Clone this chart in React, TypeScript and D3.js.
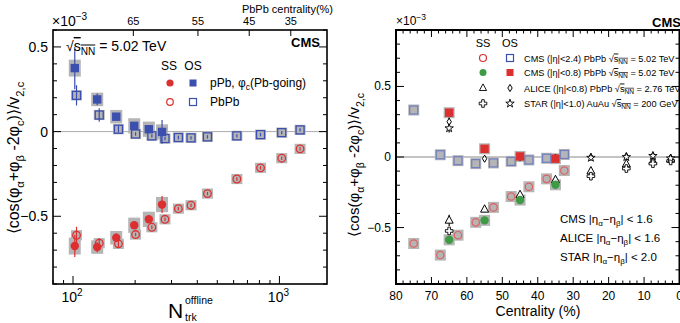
import React from 'react';
import * as d3 from 'd3';

// ---------- Left panel data (values in units of 1e-3) ----------
const pPbN = [102, 131, 162, 198, 233, 270];
const pPbSS = [-0.676, -0.682, -0.627, -0.553, -0.518, -0.431];
const pPbSSerr = [0.065, 0.03, 0.025, 0.02, 0.02, 0.05];
const pPbOS = [0.375, 0.19, 0.088, 0.034, 0.014, -0.002];
const pPbOSerr = [0.125, 0.035, 0.02, 0.015, 0.015, 0.07];
const pPbSys = [0.05, 0.04, 0.04, 0.045, 0.045, 0.045];

const PbPbN = [104, 134, 166, 201, 241, 279, 324, 373, 448, 622, 810, 1026, 1259];
const PbPbSS = [-0.612, -0.659, -0.663, -0.608, -0.565, -0.518, -0.455, -0.435, -0.366, -0.28, -0.214, -0.157, -0.102];
const PbPbSSerr = [0.05, 0.03, 0.02, 0.01, 0.01, 0.01, 0.01, 0.01, 0.01, 0.01, 0.01, 0.01, 0.01];
const PbPbOS = [0.214, 0.098, 0.014, -0.014, -0.025, -0.041, -0.035, -0.037, -0.031, -0.025, -0.018, -0.006, 0.01];
const PbPbOSerr = [0.06, 0.04, 0.02, 0.01, 0.01, 0.01, 0.01, 0.01, 0.01, 0.01, 0.01, 0.01, 0.01];
const PbPbSys = [0.03, 0.03, 0.03, 0.03, 0.03, 0.03, 0.03, 0.03, 0.03, 0.03, 0.03, 0.03, 0.03];

const topCentLabels = [65, 55, 45, 35];
const topCentN = [196, 403, 714, 1135];

// ---------- Right panel data ----------
const cmsCent = [75, 67.5, 62.5, 57.5, 52.5, 47.5, 42.5, 37.5, 32.5];
const cmsOS = [0.333, 0.016, -0.026, -0.047, -0.042, -0.031, -0.021, -0.009, 0.018];
const cmsSS = [-0.613, -0.695, -0.554, -0.463, -0.357, -0.28, -0.211, -0.155, -0.096];

const cms08Cent = [65, 55, 45, 35];
const cms08SS = [-0.587, -0.449, -0.305, -0.197];
const cms08OS = [0.314, 0.058, 0.004, -0.012];

const aliceCent = [65, 55, 45, 35, 25, 15, 7.5, 2.5];
const aliceSS = [-0.449, -0.371, -0.268, -0.162, -0.1, -0.05, -0.03, -0.016];
const aliceSSerr = [0.04, 0.02, 0.02, 0.02, 0.02, 0.015, 0.015, 0.015];
const aliceOS = [0.25, -0.012, 0.0, -0.005, 0.0, 0.005, 0.01, -0.005];
const aliceOSerr = [0.03, 0.02, 0.025, 0.015, 0.015, 0.015, 0.015, 0.015];

const starCent = [65, 25, 15, 7.5, 2.5];
const starSS = [-0.524, -0.136, -0.082, -0.047, -0.028];
const starOS = [0.204, -0.005, 0.0, 0.008, -0.01];
const starOSerr = [0.03, 0.01, 0.01, 0.01, 0.01];

const rightXTicks = [80, 70, 60, 50, 40, 30, 20, 10, 0];

const legendRows = [
  ['CMS (|η|<2.4) PbPb ', ' = 5.02 TeV'],
  ['CMS (|η|<0.8) PbPb ', ' = 5.02 TeV'],
  ['ALICE (|η|<0.8) PbPb ', ' = 2.76 TeV'],
  ['STAR (|η|<1.0) AuAu ', ' = 200 GeV'],
];

const FONT = "'Liberation Sans', Arial, Helvetica, sans-serif";
const RED = '#dc2f2f';
const BLUE = '#3b4fae';
const GREEN = '#3f9a45';
const GRAY = '#b5b5b5';

const rnd = (v: number) => Math.round(v * 1000) / 1000;

function YLabel({ x, y, size }: { x: number; y: number; size: number }) {
  const s = size * 0.7;
  const d = size * 0.3;
  return (
    <text transform={`translate(${x},${y}) rotate(-90)`} textAnchor="middle" fontSize={size} fontFamily={FONT}>
      <tspan>⟨cos(φ</tspan>
      <tspan fontSize={s} dy={d}>α</tspan>
      <tspan dy={-d}>+φ</tspan>
      <tspan fontSize={s} dy={d}>β</tspan>
      <tspan dy={-d}> -2φ</tspan>
      <tspan fontSize={s} dy={d}>c</tspan>
      <tspan dy={-d}>)⟩/v</tspan>
      <tspan fontSize={s} dy={d}>2,c</tspan>
    </text>
  );
}

function SqrtText({ x, y, size, pre, rest }: { x: number; y: number; size: number; pre: string; rest: string }) {
  const s = size * 0.72;
  return (
    <text x={x} y={y} fontSize={size} fontFamily={FONT}>
      <tspan>{pre}√</tspan>
      <tspan style={{ textDecoration: 'overline' }}>s</tspan>
      <tspan fontSize={s} dy={size * 0.25} style={{ textDecoration: 'overline' }}>NN</tspan>
      <tspan dy={-size * 0.25}>{rest}</tspan>
    </text>
  );
}

export default function App() {
  const xL = d3.scaleLog().domain([80, 1700]).range([53, 327]);
  const yL = d3.scaleLinear().domain([-0.9, 0.6]).range([284, 30]);
  const xR = d3.scaleLinear().domain([80, 0]).range([396, 679.5]);
  const yR = d3.scaleLinear().domain([-0.9, 0.9]).range([284, 30]);

  const L = { x0: 53, x1: 327, y0: 30, y1: 284 };
  const R = { x0: 396, x1: 679.5, y0: 30, y1: 284 };

  const leftYMinor = d3.range(-9, 7).map((i) => rnd(i / 10));
  const rightYMinor = d3.range(-9, 10).map((i) => rnd(i / 10));
  const majors = [-0.5, 0, 0.5];
  const leftXMinor = [80, 90, 200, 300, 400, 500, 600, 700, 800, 900];
  const leftXMajor = [100, 1000];
  const rightXMinor = d3.range(0, 81, 2);

  const starPath = d3.symbol(d3.symbolStar, 22)() as string;
  const crossPath = 'M-1.3,-3.8H1.3V-1.3H3.8V1.3H1.3V3.8H-1.3V1.3H-3.8V-1.3H-1.3Z';
  const triPath = 'M0,-4.6L4,2.8L-4,2.8Z';
  const diaPath = 'M0,-3.6L2.2,0L0,3.6L-2.2,0Z';

  const errBar = (x: number, y1: number, y2: number, color: string, key: string) => (
    <line key={key} x1={x} x2={x} y1={y1} y2={y2} stroke={color} strokeWidth={1.2} />
  );

  const legY = [61.5, 76, 91.5, 107];

  return (
    <svg width={680} height={323} style={{ position: 'absolute', left: 0, top: 0, background: '#fff' }} fontFamily={FONT}>
      {/* ================= LEFT PANEL ================= */}
      <line x1={L.x0} x2={L.x1} y1={yL(0)} y2={yL(0)} stroke="#aaa" strokeWidth={1} />
      {leftYMinor.map((v) => {
        const len = majors.includes(v) ? 8 : 4;
        return (
          <g key={'ly' + v}>
            <line x1={L.x0} x2={L.x0 + len} y1={yL(v)} y2={yL(v)} stroke="#000" strokeWidth={1} />
            <line x1={L.x1} x2={L.x1 - len} y1={yL(v)} y2={yL(v)} stroke="#000" strokeWidth={1} />
          </g>
        );
      })}
      {majors.map((v) => (
        <text key={'lyl' + v} x={L.x0 - 5} y={yL(v) + 5} textAnchor="end" fontSize={14}>
          {v === 0 ? '0' : v < 0 ? '−0.5' : '0.5'}
        </text>
      ))}
      {leftXMinor.map((v) => (
        <line key={'lxm' + v} x1={xL(v)} x2={xL(v)} y1={L.y1} y2={L.y1 - 4} stroke="#000" />
      ))}
      {leftXMajor.map((v, i) => (
        <g key={'lxM' + v}>
          <line x1={xL(v)} x2={xL(v)} y1={L.y1} y2={L.y1 - 8} stroke="#000" />
          <text x={xL(v) - 1} y={302} textAnchor="middle" fontSize={14}>
            10<tspan fontSize={10} dy={-6}>{i === 0 ? '2' : '3'}</tspan>
          </text>
        </g>
      ))}
      {topCentN.map((n, i) => (
        <g key={'tc' + n}>
          <line x1={xL(n)} x2={xL(n)} y1={L.y0} y2={L.y0 + 6} stroke="#000" />
          <text x={xL(n)} y={L.y0 - 5} textAnchor="middle" fontSize={11}>{topCentLabels[i]}</text>
        </g>
      ))}
      <text x={333} y={13} textAnchor="end" fontSize={11}>PbPb centrality(%)</text>
      <text x={52} y={26} fontSize={14}>×10<tspan fontSize={10} dy={-6}>−3</tspan></text>
      <rect x={L.x0} y={L.y0} width={L.x1 - L.x0} height={L.y1 - L.y0} fill="none" stroke="#000" strokeWidth={1.6} />

      {PbPbN.map((n, i) => (
        <g key={'pbsys' + i}>
          <rect x={xL(n) - 5.5} y={yL(PbPbSS[i] + PbPbSys[i])} width={11} height={yL(-PbPbSys[i]) - yL(PbPbSys[i])} fill={GRAY} />
          <rect x={xL(n) - 5.5} y={yL(PbPbOS[i] + PbPbSys[i])} width={11} height={yL(-PbPbSys[i]) - yL(PbPbSys[i])} fill={GRAY} />
        </g>
      ))}
      {pPbN.map((n, i) => (
        <g key={'ppsys' + i}>
          <rect x={xL(n) - 6} y={yL(pPbSS[i] + pPbSys[i])} width={12} height={yL(-pPbSys[i]) - yL(pPbSys[i])} fill={GRAY} />
          <rect x={xL(n) - 6} y={yL(pPbOS[i] + pPbSys[i])} width={12} height={yL(-pPbSys[i]) - yL(pPbSys[i])} fill={GRAY} />
        </g>
      ))}
      {PbPbN.map((n, i) => (
        <g key={'pberr' + i}>
          {errBar(xL(n), yL(PbPbSS[i] - PbPbSSerr[i]), yL(PbPbSS[i] + PbPbSSerr[i]), RED, 'a')}
          {errBar(xL(n), yL(PbPbOS[i] - PbPbOSerr[i]), yL(PbPbOS[i] + PbPbOSerr[i]), BLUE, 'b')}
        </g>
      ))}
      {pPbN.map((n, i) => (
        <g key={'pperr' + i}>
          {errBar(xL(n), yL(pPbSS[i] - pPbSSerr[i]), yL(pPbSS[i] + pPbSSerr[i]), RED, 'a')}
          {errBar(xL(n), yL(pPbOS[i] - pPbOSerr[i]), yL(pPbOS[i] + pPbOSerr[i]), BLUE, 'b')}
        </g>
      ))}
      {PbPbN.map((n, i) => (
        <g key={'pbm' + i}>
          <circle cx={xL(n)} cy={yL(PbPbSS[i])} r={3.8} fill="none" stroke={RED} strokeWidth={1.3} />
          <rect x={xL(n) - 4} y={yL(PbPbOS[i]) - 4} width={8} height={8} fill="none" stroke={BLUE} strokeWidth={1.3} />
        </g>
      ))}
      {pPbN.map((n, i) => (
        <g key={'ppm' + i}>
          <circle cx={xL(n)} cy={yL(pPbSS[i])} r={4.2} fill={RED} />
          <rect x={xL(n) - 4.2} y={yL(pPbOS[i]) - 4.2} width={8.4} height={8.4} fill={BLUE} />
        </g>
      ))}
      <SqrtText x={66} y={51} size={14} pre="" rest=" = 5.02 TeV" />
      <text x={320} y={47} textAnchor="end" fontSize={13} fontWeight="bold">CMS</text>
      <text x={169} y={70} textAnchor="middle" fontSize={12}>SS</text>
      <text x={193} y={70} textAnchor="middle" fontSize={12}>OS</text>
      <circle cx={170} cy={83} r={3.6} fill={RED} />
      <rect x={189.5} y={79.5} width={7} height={7} fill={BLUE} />
      <text x={210} y={87} fontSize={12}>pPb, φ<tspan fontSize={8.5} dy={3}>c</tspan><tspan dy={-3}>(Pb-going)</tspan></text>
      <circle cx={170} cy={102} r={3.3} fill="none" stroke={RED} strokeWidth={1.2} />
      <rect x={189.5} y={98.5} width={7} height={7} fill="none" stroke={BLUE} strokeWidth={1.2} />
      <text x={210} y={106} fontSize={12}>PbPb</text>
      <YLabel x={19} y={158} size={16} />
      <text x={168} y={318} fontSize={21}>N</text>
      <text x={185} y={304} fontSize={10.5}>offline</text>
      <text x={185} y={320.5} fontSize={10.5}>trk</text>

      {/* ================= RIGHT PANEL ================= */}
      <line x1={R.x0} x2={R.x1} y1={yR(0)} y2={yR(0)} stroke="#888" strokeWidth={1} />
      {rightYMinor.map((v) => {
        const len = majors.includes(v) ? 8 : 4;
        return (
          <g key={'ry' + v}>
            <line x1={R.x0} x2={R.x0 + len} y1={yR(v)} y2={yR(v)} stroke="#000" />
            <line x1={R.x1} x2={R.x1 - len} y1={yR(v)} y2={yR(v)} stroke="#000" />
          </g>
        );
      })}
      {majors.map((v) => (
        <text key={'ryl' + v} x={R.x0 - 5} y={yR(v) + 4} textAnchor="end" fontSize={12}>
          {v === 0 ? '0' : v < 0 ? '−0.5' : '0.5'}
        </text>
      ))}
      {rightXMinor.map((v) => {
        const len = v % 10 === 0 ? 7 : 3.5;
        return (
          <g key={'rx' + v}>
            <line x1={xR(v)} x2={xR(v)} y1={R.y1} y2={R.y1 - len} stroke="#000" />
            <line x1={xR(v)} x2={xR(v)} y1={R.y0} y2={R.y0 + len} stroke="#000" />
          </g>
        );
      })}
      {rightXTicks.map((v) => (
        <text key={'rxl' + v} x={xR(v)} y={300} textAnchor="middle" fontSize={12}>{v}</text>
      ))}
      <text x={538} y={316} textAnchor="middle" fontSize={14}>Centrality (%)</text>
      <text x={396} y={25} fontSize={12}>×10<tspan fontSize={8.5} dy={-5}>−3</tspan></text>
      <text x={681} y={27} textAnchor="end" fontSize={13} fontWeight="bold">CMS</text>
      <rect x={R.x0} y={R.y0} width={R.x1 - R.x0} height={R.y1 - R.y0} fill="none" stroke="#000" strokeWidth={2} />

      {cmsCent.map((c, i) => (
        <g key={'csys' + i}>
          <rect x={xR(c) - 5.5} y={yR(cmsOS[i]) - 5.5} width={11} height={11} fill={GRAY} />
          <rect x={xR(c) - 5.5} y={yR(cmsSS[i]) - 5.5} width={11} height={11} fill={GRAY} />
        </g>
      ))}
      {cms08Cent.map((c, i) => (
        <g key={'c8sys' + i}>
          <rect x={xR(c) - 5.5} y={yR(cms08OS[i]) - 5.5} width={11} height={11} fill={GRAY} />
          <rect x={xR(c) - 5.5} y={yR(cms08SS[i]) - 5.5} width={11} height={11} fill={GRAY} />
        </g>
      ))}
      {cmsCent.map((c, i) => (
        <g key={'cm' + i}>
          <rect x={xR(c) - 4} y={yR(cmsOS[i]) - 4} width={8} height={8} fill="none" stroke="#6f7fc0" strokeWidth={1.2} />
          <circle cx={xR(c)} cy={yR(cmsSS[i])} r={3.7} fill="none" stroke="#e06060" strokeWidth={1.2} />
        </g>
      ))}
      {aliceCent.map((c, i) => (
        <g key={'al' + i}>
          {errBar(xR(c), yR(aliceSS[i] - aliceSSerr[i]), yR(aliceSS[i] + aliceSSerr[i]), '#000', 'a')}
          {errBar(xR(c), yR(aliceOS[i] - aliceOSerr[i]), yR(aliceOS[i] + aliceOSerr[i]), '#000', 'b')}
          <path d={triPath} transform={`translate(${xR(c)},${yR(aliceSS[i])})`} fill="#fff" stroke="#000" strokeWidth={1} />
          <path d={diaPath} transform={`translate(${xR(c)},${yR(aliceOS[i])})`} fill="#fff" stroke="#000" strokeWidth={1} />
        </g>
      ))}
      {starCent.map((c, i) => (
        <g key={'st' + i}>
          {errBar(xR(c), yR(starOS[i] - starOSerr[i]), yR(starOS[i] + starOSerr[i]), '#000', 'b')}
          <path d={crossPath} transform={`translate(${xR(c)},${yR(starSS[i])})`} fill="#fff" stroke="#000" strokeWidth={0.9} />
          <path d={starPath} transform={`translate(${xR(c)},${yR(starOS[i])})`} fill="#fff" stroke="#000" strokeWidth={0.9} />
        </g>
      ))}
      {cms08Cent.map((c, i) => (
        <g key={'c8' + i}>
          <rect x={xR(c) - 4.2} y={yR(cms08OS[i]) - 4.2} width={8.4} height={8.4} fill={RED} />
          <circle cx={xR(c)} cy={yR(cms08SS[i])} r={4.2} fill={GREEN} />
        </g>
      ))}

      {/* right legend */}
      <text x={483} y={47} textAnchor="middle" fontSize={11}>SS</text>
      <text x={510} y={47} textAnchor="middle" fontSize={11}>OS</text>
      <circle cx={483} cy={58} r={3.5} fill="none" stroke={RED} strokeWidth={1.2} />
      <rect x={506.5} y={54.5} width={7} height={7} fill="none" stroke={BLUE} strokeWidth={1.2} />
      <circle cx={483} cy={72.5} r={3.5} fill={GREEN} />
      <rect x={506.5} y={69} width={7} height={7} fill={RED} />
      <path d={triPath} transform="translate(483,88) scale(0.9)" fill="#fff" stroke="#000" />
      <path d={diaPath} transform="translate(510,88)" fill="#fff" stroke="#000" />
      <path d={crossPath} transform="translate(483,103.5)" fill="#fff" stroke="#000" strokeWidth={0.9} />
      <path d={starPath} transform="translate(510,103.5)" fill="#fff" stroke="#000" strokeWidth={0.9} />
      {legendRows.map(([pre, rest], i) => (
        <SqrtText key={'lr' + i} x={524} y={legY[i]} size={9.2} pre={pre} rest={rest} />
      ))}

      {[
        ['CMS', '1.6', 223],
        ['ALICE', '1.6', 242],
        ['STAR', '2.0', 261],
      ].map(([name, cut, y]) => (
        <text key={name as string} x={560} y={y as number} fontSize={11.5}>
          {name} |η<tspan fontSize={8} dy={3}>α</tspan><tspan dy={-3}>−η</tspan><tspan fontSize={8} dy={3}>β</tspan><tspan dy={-3}>| &lt; {cut}</tspan>
        </text>
      ))}
      <YLabel x={359} y={165} size={15} />
    </svg>
  );
}
